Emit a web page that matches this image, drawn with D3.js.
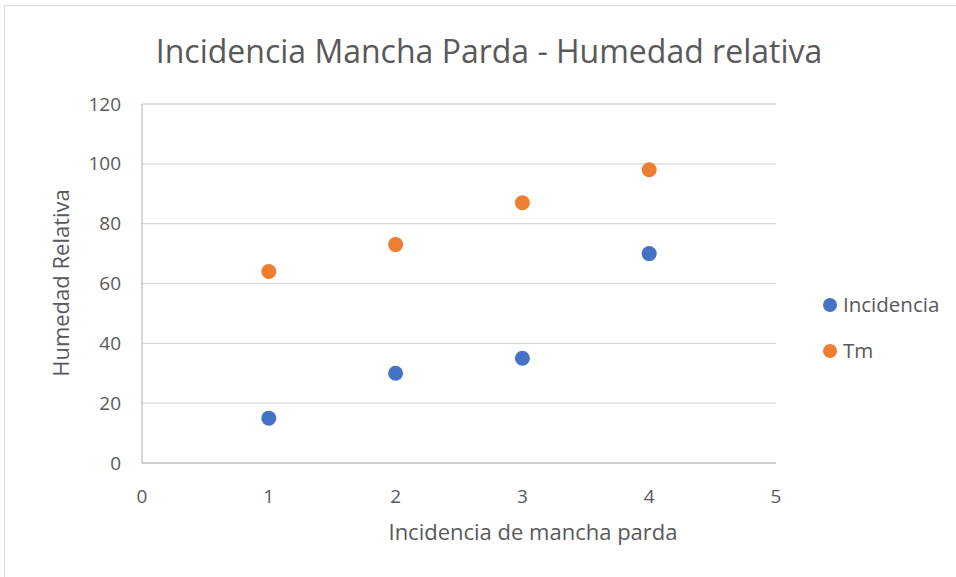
<!DOCTYPE html>
<html>
<head>
<meta charset="utf-8">
<script src="https://cdn.jsdelivr.net/npm/d3@7"></script>
<style>
  body { margin: 0; background: #fff; }
  text { font-family: "Open Sans", "Noto Sans", sans-serif; fill: #595959; }
</style>
</head>
<body>
<svg id="chart" width="956" height="577"></svg>
<script>
// data
var xValues = [1, 2, 3, 4];
var incidencia = [15, 30, 35, 70];
var tm = [64, 73, 87, 98];
var seriesNames = ["Incidencia", "Tm"];
var seriesColors = ["#4472c4", "#ed7d31"];
var xTicks = [0, 1, 2, 3, 4, 5];
var yTicks = [0, 20, 40, 60, 80, 100, 120];

var svg = d3.select("#chart");

// outer chart border
svg.append("rect")
  .attr("x", 4.5).attr("y", 5.5)
  .attr("width", 960).attr("height", 580)
  .attr("fill", "#fff")
  .attr("stroke", "#d9d9d9");

var x = d3.scaleLinear().domain([0, 5]).range([142, 776]);
var y = d3.scaleLinear().domain([0, 120]).range([463, 104]);

// gridlines
svg.append("g").selectAll("line").data(yTicks.slice(1)).enter().append("line")
  .attr("x1", x(0)).attr("x2", x(5))
  .attr("y1", function(d) { return y(d); })
  .attr("y2", function(d) { return y(d); })
  .attr("stroke", "#d9d9d9").attr("stroke-width", 1.3);

// axes lines
svg.append("line")
  .attr("x1", x(0)).attr("x2", x(0)).attr("y1", y(0)).attr("y2", y(120))
  .attr("stroke", "#bfbfbf").attr("stroke-width", 1.3);
svg.append("line")
  .attr("x1", x(0)).attr("x2", x(5)).attr("y1", y(0)).attr("y2", y(0))
  .attr("stroke", "#bfbfbf").attr("stroke-width", 1.3);

// tick labels
svg.append("g").selectAll("text").data(yTicks).enter().append("text")
  .attr("x", 121).attr("y", function(d) { return y(d); })
  .attr("dy", "0.35em")
  .attr("text-anchor", "end")
  .attr("font-size", 19)
  .text(function(d) { return d; });
svg.append("g").selectAll("text").data(xTicks).enter().append("text")
  .attr("x", function(d) { return x(d); }).attr("y", 503)
  .attr("text-anchor", "middle")
  .attr("font-size", 19)
  .text(function(d) { return d; });

// titles
svg.append("text")
  .attr("x", 489).attr("y", 63)
  .attr("text-anchor", "middle")
  .attr("font-size", 32)
  .text("Incidencia Mancha Parda - Humedad relativa");
svg.append("text")
  .attr("x", 533).attr("y", 540)
  .attr("text-anchor", "middle")
  .attr("font-size", 22)
  .text("Incidencia de mancha parda");
svg.append("text")
  .attr("transform", "translate(69,283) rotate(-90)")
  .attr("text-anchor", "middle")
  .attr("font-size", 22)
  .text("Humedad Relativa");

// points
var series = [incidencia, tm];
series.forEach(function(vals, i) {
  svg.append("g").selectAll("circle").data(vals).enter().append("circle")
    .attr("cx", function(d, j) { return x(xValues[j]); })
    .attr("cy", function(d) { return y(d); })
    .attr("r", 7.5)
    .attr("fill", seriesColors[i]);
});

// legend
var legend = svg.append("g").selectAll("g").data(seriesNames).enter().append("g")
  .attr("transform", function(d, i) { return "translate(830," + (305 + i * 46) + ")"; });
legend.append("circle").attr("r", 7).attr("fill", function(d, i) { return seriesColors[i]; });
legend.append("text").attr("x", 13).attr("dy", "0.35em").attr("font-size", 20.5)
  .text(function(d) { return d; });
</script>
</body>
</html>
